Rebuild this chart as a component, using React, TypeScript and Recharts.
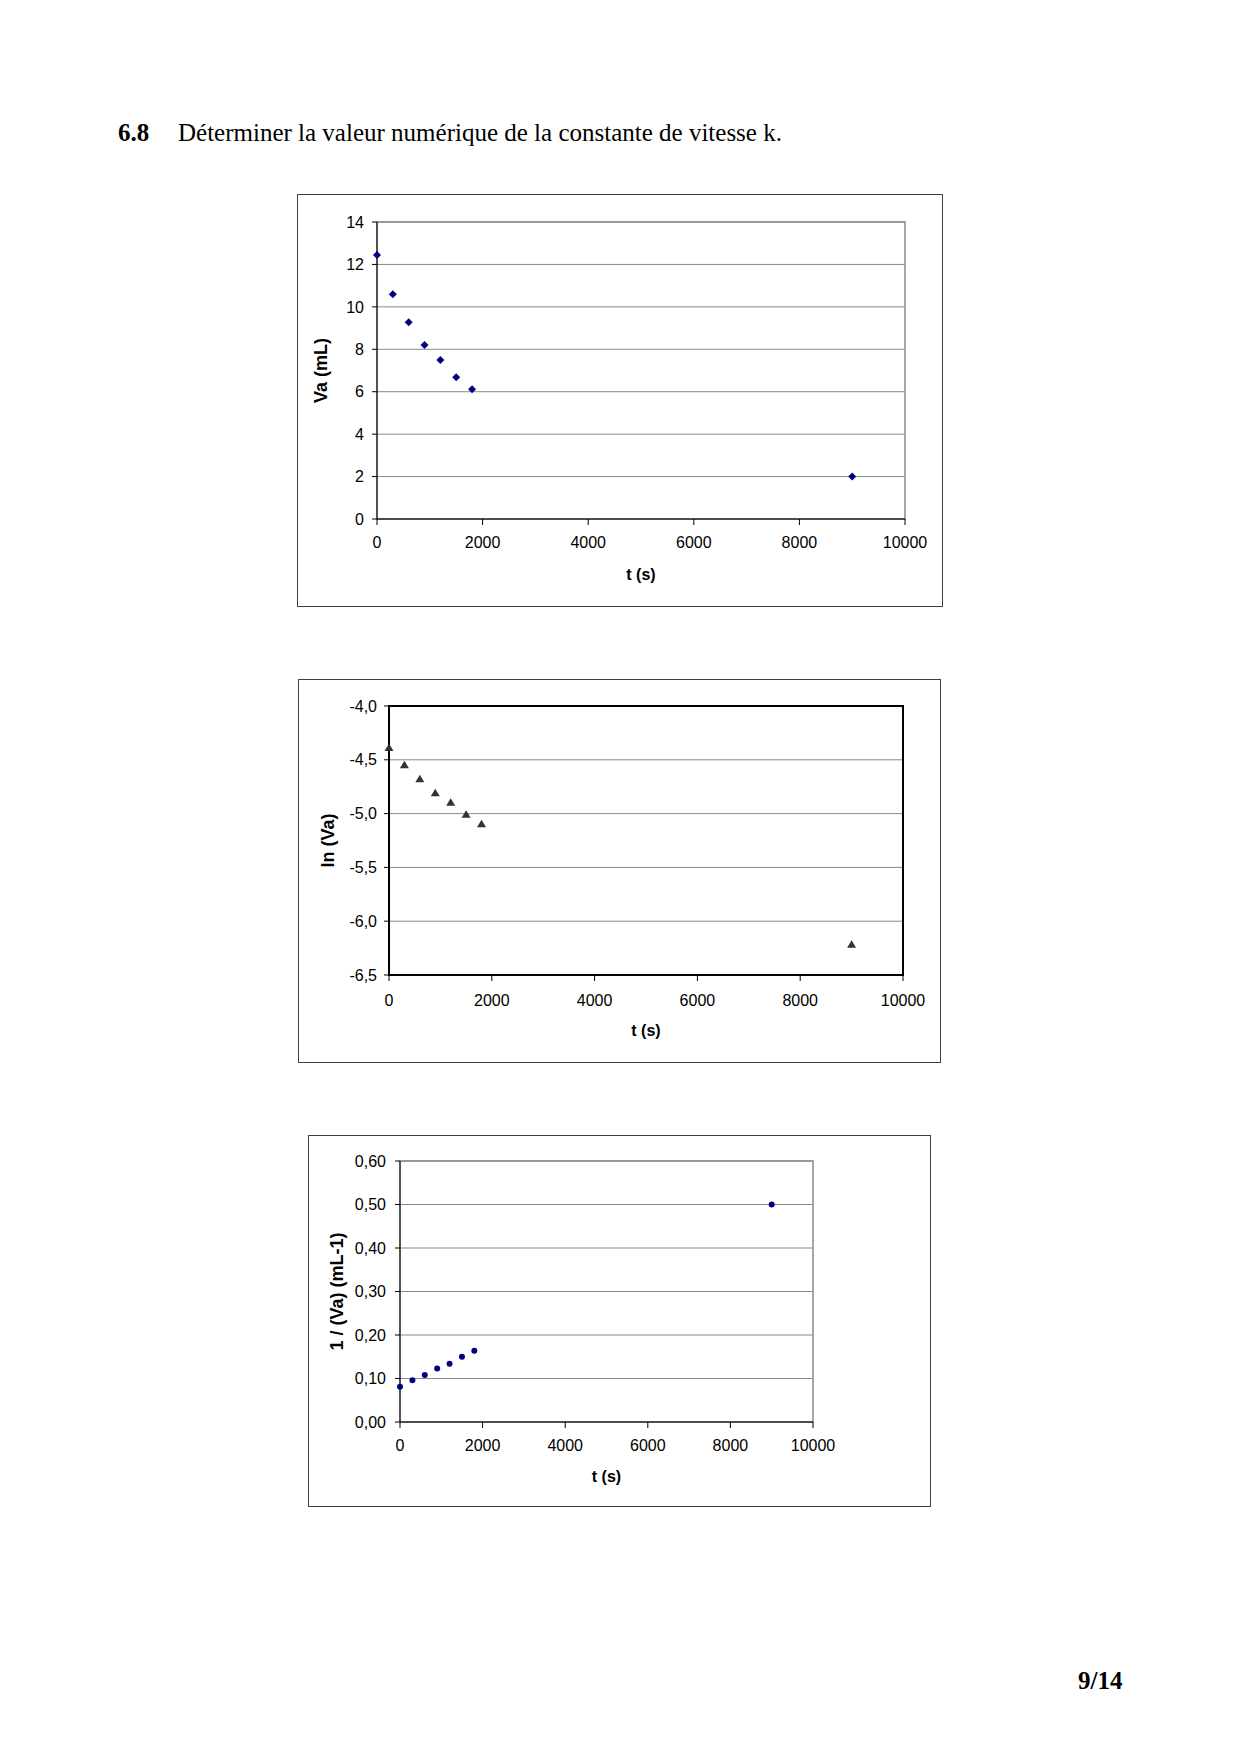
import React from 'react';
import { ScatterChart, Scatter, XAxis, YAxis, CartesianGrid, ReferenceArea } from 'recharts';

// Measurements read from the page
const times = [0, 300, 600, 900, 1200, 1500, 1800, 9000];
const vaValues = [12.45, 10.6, 9.28, 8.2, 7.5, 6.68, 6.12, 2.0];
const lnVaValues = [-4.39, -4.55, -4.68, -4.81, -4.9, -5.01, -5.1, -6.22];
const invVaValues = [0.081, 0.096, 0.108, 0.123, 0.134, 0.15, 0.164, 0.5];

// Axis ticks
const timeTicks = [0, 2000, 4000, 6000, 8000, 10000];
const vaTicks = [0, 2, 4, 6, 8, 10, 12, 14];
const lnTicks = [-6.5, -6, -5.5, -5, -4.5, -4];
const invTicks = [0, 0.1, 0.2, 0.3, 0.4, 0.5, 0.6];

const SANS = 'Liberation Sans, Arial, sans-serif';
const SERIF = 'Liberation Serif, "Times New Roman", serif';

const tickStyle = { fill: '#000', fontSize: 16, fontFamily: SANS };
const titleStyle = { fill: '#000', fontSize: 16, fontWeight: 'bold', fontFamily: SANS };

const Diamond = (p: any) => (
  <path
    d={`M${p.cx},${p.cy - 4}L${p.cx + 4},${p.cy}L${p.cx},${p.cy + 4}L${p.cx - 4},${p.cy}Z`}
    fill="#000080"
  />
);

const Triangle = (p: any) => (
  <path
    d={`M${p.cx},${p.cy - 4.5}L${p.cx + 4.5},${p.cy + 3}L${p.cx - 4.5},${p.cy + 3}Z`}
    fill="#333333"
  />
);

const Dot = (p: any) => <circle cx={p.cx} cy={p.cy} r={3} fill="#000080" />;

type PanelProps = {
  box: { left: number; top: number; width: number; height: number };
  margin: { top: number; right: number; bottom: number; left: number };
  yWidth: number;
  xHeight: number;
  values: number[];
  yTicks: number[];
  yFormat: (v: number) => string;
  yLabel: string;
  yLabelOffset: number;
  yTickMargin: number;
  xTickMargin: number;
  border: { stroke: string; width: number };
  shape: any;
};

const Panel = (p: PanelProps) => {
  const data = times.map((t, i) => ({ t, v: p.values[i] }));
  const yMin = p.yTicks[0];
  const yMax = p.yTicks[p.yTicks.length - 1];
  return (
    <div
      style={{
        position: 'absolute',
        left: p.box.left,
        top: p.box.top,
        width: p.box.width,
        height: p.box.height,
        border: '1px solid #404040',
        boxSizing: 'border-box',
        background: '#fff',
      }}
    >
      <ScatterChart width={p.box.width - 2} height={p.box.height - 2} margin={p.margin}>
        <CartesianGrid vertical={false} stroke="#8a8a8a" />
        <ReferenceArea
          x1={0}
          x2={10000}
          y1={yMin}
          y2={yMax}
          fill="none"
          fillOpacity={0}
          stroke={p.border.stroke}
          strokeWidth={p.border.width}
        />
        <XAxis
          type="number"
          dataKey="t"
          domain={[0, 10000]}
          ticks={timeTicks}
          interval={0}
          height={p.xHeight}
          tickSize={6}
          tickMargin={p.xTickMargin}
          tick={tickStyle}
          axisLine={{ stroke: '#000' }}
          tickLine={{ stroke: '#000' }}
          label={{ value: 't (s)', position: 'insideBottom', offset: 5, style: titleStyle }}
        />
        <YAxis
          type="number"
          dataKey="v"
          domain={[yMin, yMax]}
          ticks={p.yTicks}
          interval={0}
          width={p.yWidth}
          tickSize={5}
          tickMargin={p.yTickMargin}
          tick={tickStyle}
          tickFormatter={p.yFormat}
          axisLine={{ stroke: '#000' }}
          tickLine={{ stroke: '#000' }}
          label={{
            value: p.yLabel,
            angle: -90,
            position: 'insideLeft',
            offset: p.yLabelOffset,
            style: { ...titleStyle, fontSize: 18, textAnchor: 'middle' },
          }}
        />
        <Scatter data={data} shape={p.shape} isAnimationActive={false} />
      </ScatterChart>
    </div>
  );
};

const App = () => {
  return (
    <div
      style={{
        position: 'absolute',
        left: 0,
        top: 0,
        width: 1240,
        height: 1754,
        background: '#fff',
        fontFamily: SERIF,
        color: '#000',
      }}
    >
      <div style={{ position: 'absolute', left: 118, top: 120, fontSize: 25, lineHeight: '25px', fontWeight: 'bold' }}>
        6.8
      </div>
      <div style={{ position: 'absolute', left: 178, top: 120, fontSize: 25, lineHeight: '25px', whiteSpace: 'nowrap' }}>
        Déterminer la valeur numérique de la constante de vitesse k.
      </div>

      <Panel
        box={{ left: 297, top: 194, width: 646, height: 413 }}
        margin={{ top: 27, right: 37, bottom: 21, left: 0 }}
        yWidth={79}
        xHeight={66}
        values={vaValues}
        yTicks={vaTicks}
        yFormat={(v) => String(v)}
        yLabel="Va (mL)"
        yLabelOffset={23}
        yTickMargin={8}
        xTickMargin={12}
        border={{ stroke: '#8a8a8a', width: 1.5 }}
        shape={Diamond}
      />

      <Panel
        box={{ left: 298, top: 679, width: 643, height: 384 }}
        margin={{ top: 26, right: 37, bottom: 21, left: 0 }}
        yWidth={90}
        xHeight={66}
        values={lnVaValues}
        yTicks={lnTicks}
        yFormat={(v) => v.toFixed(1).replace('.', ',')}
        yLabel="ln (Va)"
        yLabelOffset={29}
        yTickMargin={7}
        xTickMargin={14}
        border={{ stroke: '#000', width: 2 }}
        shape={Triangle}
      />

      <Panel
        box={{ left: 308, top: 1135, width: 623, height: 372 }}
        margin={{ top: 25, right: 117, bottom: 19, left: 0 }}
        yWidth={91}
        xHeight={65}
        values={invVaValues}
        yTicks={invTicks}
        yFormat={(v) => v.toFixed(2).replace('.', ',')}
        yLabel="1 / (Va) (mL-1)"
        yLabelOffset={28}
        yTickMargin={9}
        xTickMargin={12}
        border={{ stroke: '#8a8a8a', width: 1.5 }}
        shape={Dot}
      />

      <div style={{ position: 'absolute', left: 1078, top: 1668, fontSize: 25, lineHeight: '25px', fontWeight: 'bold' }}>
        9/14
      </div>
    </div>
  );
};

export default App;
